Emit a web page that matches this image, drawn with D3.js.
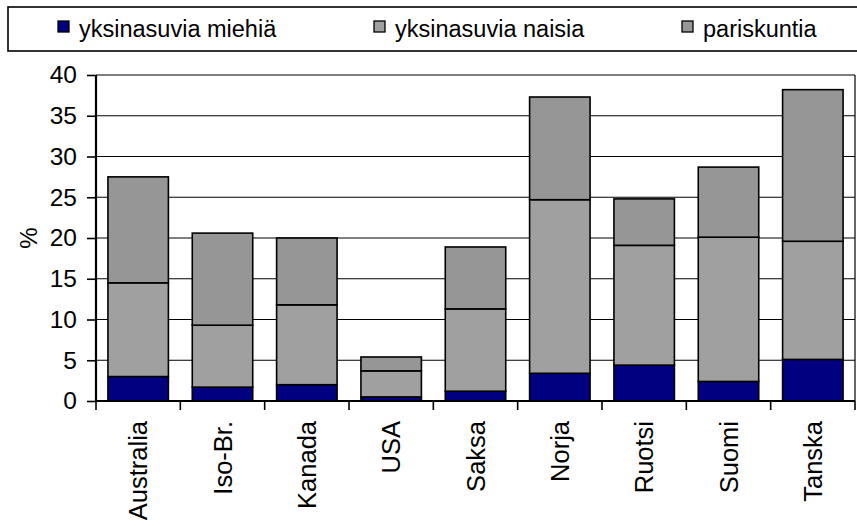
<!DOCTYPE html>
<html>
<head>
<meta charset="utf-8">
<script src="https://cdn.jsdelivr.net/npm/d3@7"></script>
<style>
  body { margin: 0; background: #fff; }
  svg { display: block; font-family: "Liberation Sans", Arial, sans-serif; }
</style>
</head>
<body>
<div id="chart"></div>
<script>
// values (%)
const categories = ['Australia', 'Iso-Br.', 'Kanada', 'USA', 'Saksa', 'Norja', 'Ruotsi', 'Suomi', 'Tanska'];
const seriesNames = ['yksinasuvia miehiä', 'yksinasuvia naisia', 'pariskuntia'];
const men = [3.0, 1.7, 2.0, 0.5, 1.2, 3.4, 4.4, 2.4, 5.1];
const women = [11.5, 7.6, 9.8, 3.2, 10.1, 21.3, 14.7, 17.7, 14.5];
const couples = [13.0, 11.3, 8.2, 1.7, 7.6, 12.6, 5.7, 8.6, 18.6];
const yTicks = [0, 5, 10, 15, 20, 25, 30, 35, 40];

const colors = ['#000080', '#a0a0a0', '#969696'];
const W = 857, H = 527;
const plot = { left: 96, right: 855, top: 75, bottom: 401 };

const rows = categories.map((c, i) => ({ cat: c, s0: men[i], s1: women[i], s2: couples[i] }));
const stacked = d3.stack().keys(['s0', 's1', 's2'])(rows);

const svg = d3.select('#chart').append('svg').attr('width', W).attr('height', H);

const x = d3.scaleBand()
    .domain(categories)
    .range([plot.left, plot.right])
    .paddingInner(0.283)
    .paddingOuter(0.1415);

const y = d3.scaleLinear().domain([0, 40]).range([plot.bottom, plot.top]);

// gridlines
svg.append('g')
    .selectAll('line')
    .data(yTicks.filter(d => d > 0))
    .enter()
    .append('line')
    .attr('x1', plot.left).attr('x2', plot.right)
    .attr('y1', d => y(d)).attr('y2', d => y(d))
    .attr('stroke', '#000').attr('stroke-width', 1.2);

// right border of plot area
svg.append('line')
    .attr('x1', plot.right).attr('x2', plot.right)
    .attr('y1', plot.top).attr('y2', plot.bottom)
    .attr('stroke', '#000').attr('stroke-width', 1.2);

// bars
svg.append('g')
    .selectAll('g')
    .data(stacked)
    .enter()
    .append('g')
    .attr('fill', (d, i) => colors[i])
    .selectAll('rect')
    .data(d => d)
    .enter()
    .append('rect')
    .attr('x', d => x(d.data.cat))
    .attr('y', d => y(d[1]))
    .attr('width', x.bandwidth())
    .attr('height', d => y(d[0]) - y(d[1]))
    .attr('stroke', '#000')
    .attr('stroke-width', 1.6);

// y axis
const yAxis = svg.append('g')
    .attr('transform', `translate(${plot.left},0)`)
    .call(d3.axisLeft(y).tickValues(yTicks).tickSize(9).tickPadding(10));
yAxis.select('.domain').attr('stroke-width', 2.2).attr('d', `M0,${plot.top}V${plot.bottom}`);
yAxis.selectAll('.tick line').attr('stroke-width', 1.6);
yAxis.selectAll('text').attr('font-size', 24.5).attr('fill', '#000')
    .attr('font-family', '"Liberation Sans", Arial, sans-serif');

// x axis with ticks at band boundaries
const xAxis = svg.append('g').attr('transform', `translate(0,${plot.bottom})`);
xAxis.append('line')
    .attr('x1', plot.left).attr('x2', plot.right)
    .attr('stroke', '#000').attr('stroke-width', 2.2);
const step = x.step();
const bounds = d3.range(categories.length + 1).map(i => plot.left + i * step);
xAxis.selectAll('.bt')
    .data(bounds)
    .enter()
    .append('line')
    .attr('x1', d => d).attr('x2', d => d)
    .attr('y1', 0).attr('y2', 9)
    .attr('stroke', '#000').attr('stroke-width', 1.6);
xAxis.selectAll('text')
    .data(categories)
    .enter()
    .append('text')
    .attr('transform', d => `translate(${x(d) + x.bandwidth() / 2 + 9},20) rotate(-90)`)
    .attr('text-anchor', 'end')
    .attr('font-size', 25.5)
    .text(d => d);

// y label
svg.append('text')
    .attr('transform', `translate(37,238) rotate(-90)`)
    .attr('text-anchor', 'middle')
    .attr('font-size', 24)
    .text('%');

// legend
svg.append('rect')
    .attr('x', 8).attr('y', 7)
    .attr('width', 870).attr('height', 44)
    .attr('fill', '#fff').attr('stroke', '#000').attr('stroke-width', 1.6);
const legendX = [58, 374, 682];
const legend = svg.append('g')
    .selectAll('g')
    .data(seriesNames)
    .enter()
    .append('g')
    .attr('transform', (d, i) => `translate(${legendX[i]},0)`);
legend.append('rect')
    .attr('x', 0).attr('y', 21)
    .attr('width', 11).attr('height', 11)
    .attr('fill', (d, i) => colors[i])
    .attr('stroke', '#000').attr('stroke-width', 1.3);
legend.append('text')
    .attr('x', 21).attr('y', 37)
    .attr('font-size', 23.5)
    .text(d => d);
</script>
</body>
</html>
